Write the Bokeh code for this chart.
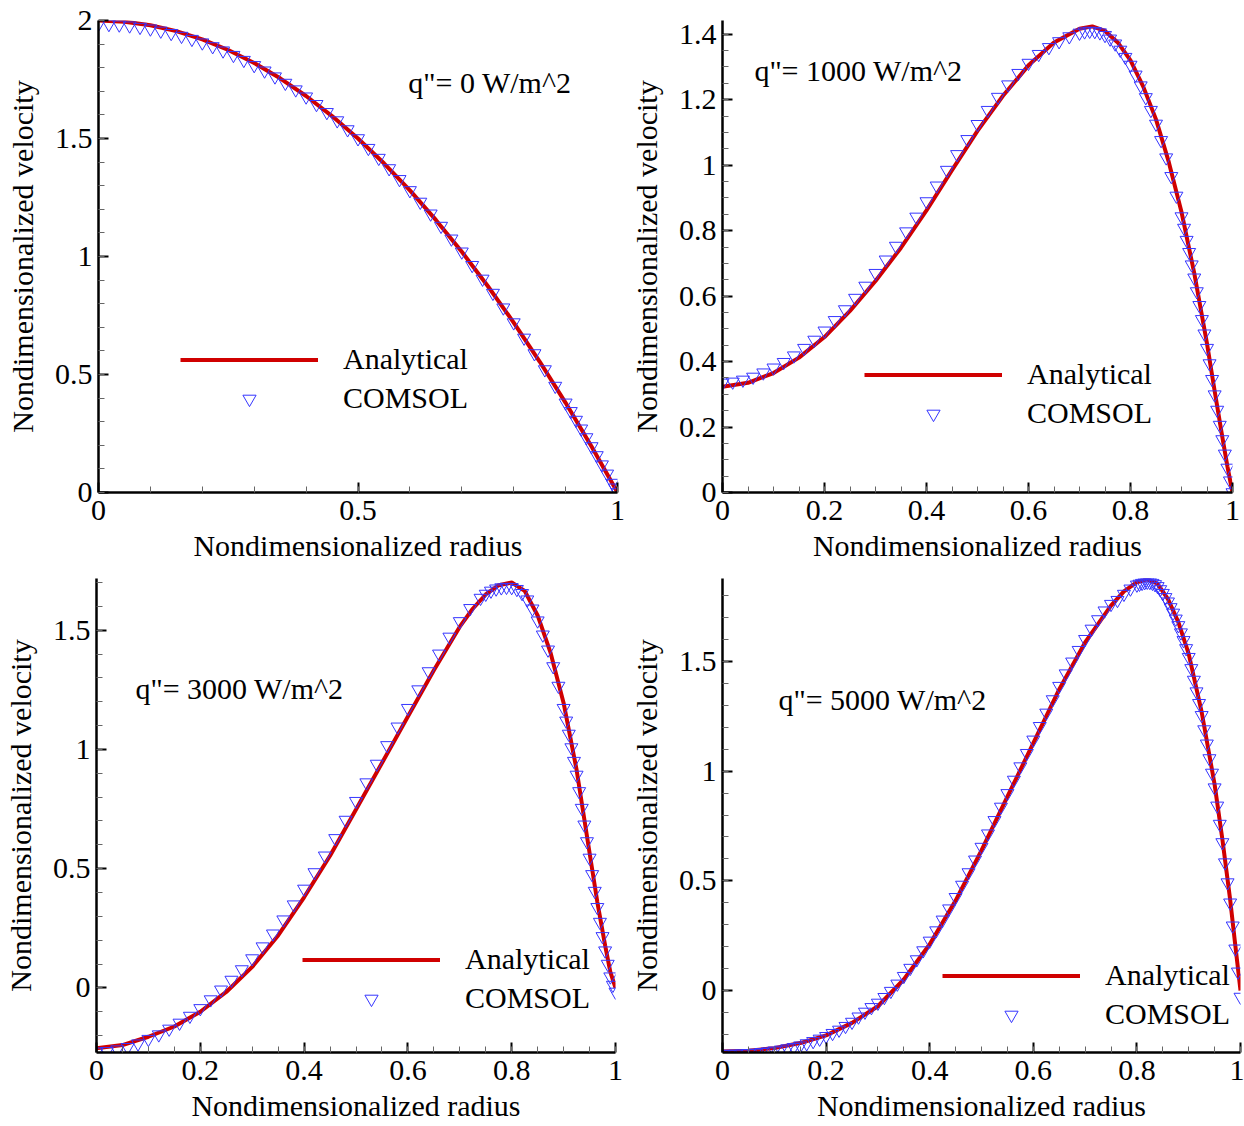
from bokeh.plotting import figure
from bokeh.layouts import column, row
from bokeh.models import (Range1d, SingleIntervalTicker, CustomJSTickFormatter,
                          Label, Legend, LegendItem)
from bokeh.embed import file_html
from bokeh.resources import INLINE

# ---------------- data ----------------
# Panel 1: q" = 0 W/m^2
R1_A = [0.0, 0.05, 0.1, 0.15, 0.2, 0.25, 0.3, 0.35, 0.4, 0.45, 0.5, 0.55, 0.6, 0.65,
        0.7, 0.75, 0.8, 0.85, 0.9, 0.95, 1.0]
V1_A = [2.0, 1.995, 1.98, 1.955, 1.92, 1.875, 1.82, 1.755, 1.68, 1.595, 1.5, 1.395,
        1.28, 1.155, 1.02, 0.875, 0.72, 0.555, 0.38, 0.195, 0.0]
R1_C = [0.00, 0.02, 0.04, 0.06, 0.08, 0.10, 0.12, 0.14, 0.16, 0.18, 0.20, 0.22, 0.24,
        0.26, 0.28, 0.30, 0.32, 0.34, 0.36, 0.38, 0.40, 0.42, 0.44, 0.46, 0.48, 0.50,
        0.52, 0.54, 0.56, 0.58, 0.60, 0.62, 0.64, 0.66, 0.68, 0.70, 0.72, 0.74, 0.76,
        0.78, 0.80, 0.82, 0.84, 0.86, 0.88, 0.90, 0.91, 0.92, 0.93, 0.94, 0.95, 0.96,
        0.97, 0.98, 0.99, 0.995, 1.0]
V1_C = [1.985, 1.984, 1.982, 1.978, 1.972, 1.965, 1.956, 1.946, 1.934, 1.921, 1.906,
        1.890, 1.872, 1.853, 1.832, 1.810, 1.787, 1.762, 1.735, 1.707, 1.677, 1.645,
        1.611, 1.576, 1.538, 1.500, 1.459, 1.417, 1.373, 1.327, 1.280, 1.231, 1.181,
        1.129, 1.075, 1.020, 0.963, 0.905, 0.845, 0.783, 0.720, 0.655, 0.589, 0.521,
        0.451, 0.380, 0.344, 0.307, 0.270, 0.233, 0.195, 0.157, 0.118, 0.079, 0.040,
        0.020, 0.000]

# Panel 2: q" = 1000 W/m^2
R2_A = [0.0, 0.05, 0.1, 0.15, 0.2, 0.25, 0.3, 0.35, 0.4, 0.45, 0.5, 0.55, 0.6, 0.65,
        0.7, 0.725, 0.75, 0.775, 0.8, 0.825, 0.85, 0.875, 0.9, 0.925, 0.95, 0.965,
        0.98, 0.99, 1.0]
V2_A = [0.323, 0.335, 0.365, 0.412, 0.475, 0.555, 0.646, 0.748, 0.862, 0.985, 1.105,
        1.212, 1.305, 1.375, 1.417, 1.424, 1.410, 1.375, 1.320, 1.240, 1.140, 1.010,
        0.857, 0.670, 0.455, 0.310, 0.170, 0.080, 0.0]
R2_C = [0.00, 0.02, 0.04, 0.06, 0.08, 0.10, 0.12, 0.14, 0.16, 0.18, 0.20, 0.22, 0.24,
        0.26, 0.28, 0.30, 0.32, 0.34, 0.36, 0.38, 0.40, 0.42, 0.44, 0.46, 0.48, 0.50,
        0.52, 0.54, 0.56, 0.58, 0.60, 0.62, 0.64, 0.66, 0.68, 0.70,
        0.71, 0.72, 0.73, 0.74, 0.75, 0.76, 0.77, 0.78, 0.79, 0.80, 0.81, 0.82, 0.83,
        0.84, 0.85, 0.86, 0.87, 0.88, 0.89, 0.90,
        0.905, 0.91, 0.915, 0.92, 0.925, 0.93, 0.935, 0.94, 0.945, 0.95, 0.955, 0.96,
        0.965, 0.97, 0.975, 0.98, 0.985, 0.99, 0.995, 1.0]
V2_C = [0.335, 0.338, 0.344, 0.353, 0.366, 0.381, 0.398, 0.418, 0.441, 0.466, 0.494,
        0.526, 0.559, 0.594, 0.631, 0.670, 0.711, 0.753, 0.797, 0.842, 0.889, 0.937,
        0.985, 1.033, 1.079, 1.125, 1.168, 1.208, 1.246, 1.281, 1.312, 1.339, 1.360,
        1.378, 1.393, 1.404,
        1.408, 1.410, 1.409, 1.405, 1.397, 1.386, 1.371, 1.352, 1.330, 1.306, 1.276,
        1.243, 1.207, 1.168, 1.126, 1.076, 1.023, 0.966, 0.906, 0.843,
        0.808, 0.771, 0.734, 0.696, 0.656, 0.614, 0.572, 0.529, 0.485, 0.441, 0.394,
        0.346, 0.299, 0.252, 0.206, 0.162, 0.118, 0.075, 0.036, 0.0]

# Panel 3: q" = 3000 W/m^2
R3_A = [0.0, 0.05, 0.1, 0.15, 0.2, 0.25, 0.3, 0.35, 0.4, 0.45, 0.5, 0.55, 0.6, 0.65,
        0.7, 0.725, 0.75, 0.775, 0.8, 0.825, 0.85, 0.875, 0.9, 0.925, 0.95, 0.965,
        0.98, 0.99, 1.0]
V3_A = [-0.253, -0.240, -0.205, -0.162, -0.100, -0.017, 0.088, 0.220, 0.380, 0.554,
        0.748, 0.943, 1.138, 1.332, 1.515, 1.590, 1.650, 1.689, 1.700, 1.665, 1.562,
        1.405, 1.195, 0.915, 0.567, 0.360, 0.178, 0.067, 0.0]
R3_C = [0.00, 0.02, 0.04, 0.06, 0.08, 0.10, 0.12, 0.14, 0.16, 0.18, 0.20, 0.22, 0.24,
        0.26, 0.28, 0.30, 0.32, 0.34, 0.36, 0.38, 0.40, 0.42, 0.44, 0.46, 0.48, 0.50,
        0.52, 0.54, 0.56, 0.58, 0.60, 0.62, 0.64, 0.66, 0.68, 0.70, 0.72, 0.74,
        0.75, 0.76, 0.77, 0.78, 0.79, 0.80, 0.81, 0.82, 0.83, 0.84, 0.85, 0.86, 0.87,
        0.88, 0.89, 0.90,
        0.905, 0.91, 0.915, 0.92, 0.925, 0.93, 0.935, 0.94, 0.945, 0.95, 0.955, 0.96,
        0.965, 0.97, 0.975, 0.98, 0.985, 0.99, 0.995, 1.0]
V3_C = [-0.268, -0.266, -0.259, -0.249, -0.234, -0.215, -0.196, -0.172, -0.147, -0.118,
        -0.086, -0.049, -0.008, 0.033, 0.077, 0.123, 0.173, 0.227, 0.286, 0.349, 0.415,
        0.484, 0.554, 0.627, 0.704, 0.783, 0.861, 0.939, 1.017, 1.095, 1.173, 1.251,
        1.327, 1.401, 1.472, 1.537, 1.592, 1.635,
        1.652, 1.665, 1.674, 1.679, 1.681, 1.680, 1.672, 1.655, 1.628, 1.590, 1.540,
        1.481, 1.418, 1.348, 1.266, 1.173,
        1.120, 1.065, 1.008, 0.951, 0.893, 0.824, 0.754, 0.684, 0.614, 0.545, 0.476,
        0.406, 0.338, 0.276, 0.216, 0.156, 0.100, 0.047, 0.012, -0.017]

# Panel 4: q" = 5000 W/m^2
R4_A = [0.0, 0.05, 0.1, 0.15, 0.2, 0.25, 0.3, 0.35, 0.4, 0.45, 0.5, 0.55, 0.6, 0.65,
        0.7, 0.75, 0.775, 0.8, 0.82, 0.84, 0.86, 0.88, 0.9, 0.925, 0.95, 0.965, 0.98,
        0.99, 1.0]
V4_A = [-0.278, -0.275, -0.263, -0.240, -0.205, -0.148, -0.072, 0.050, 0.211, 0.410,
        0.639, 0.884, 1.128, 1.373, 1.587, 1.755, 1.820, 1.862, 1.875, 1.855, 1.785,
        1.680, 1.535, 1.270, 0.940, 0.690, 0.415, 0.205, 0.0]
R4_C = [0.0, 0.0125, 0.025, 0.0375, 0.05, 0.0625, 0.075, 0.0875, 0.1, 0.1125, 0.125,
        0.1375, 0.15, 0.1625, 0.175, 0.1875, 0.2, 0.2125, 0.225, 0.2375, 0.25, 0.2625,
        0.275, 0.2875, 0.3, 0.3125, 0.325, 0.3375, 0.35, 0.3625, 0.375, 0.3875, 0.4,
        0.4125, 0.425, 0.4375, 0.45, 0.4625, 0.475, 0.4875, 0.5, 0.5125, 0.525, 0.5375,
        0.55, 0.5625, 0.575, 0.5875, 0.6, 0.6125, 0.625, 0.6375, 0.65, 0.6625, 0.675,
        0.6875, 0.7, 0.7125, 0.725, 0.7375, 0.75, 0.7625, 0.775, 0.7875, 0.8,
        0.805, 0.81, 0.815, 0.82, 0.825, 0.83, 0.835, 0.84, 0.845, 0.85,
        0.855, 0.86, 0.865, 0.87, 0.875, 0.88, 0.885, 0.89, 0.895, 0.9,
        0.905, 0.91, 0.915, 0.92, 0.925, 0.93, 0.935, 0.94, 0.945, 0.95,
        0.955, 0.96, 0.965, 0.97, 0.975, 0.98, 0.985, 0.99, 0.995, 1.0]
V4_C = [-0.290, -0.290, -0.289, -0.288, -0.287, -0.285, -0.282, -0.279, -0.275, -0.271,
        -0.265, -0.259, -0.252, -0.242, -0.232, -0.221, -0.209, -0.195, -0.180, -0.163,
        -0.144, -0.120, -0.098, -0.077, -0.057, -0.031, -0.003, 0.030, 0.065, 0.102,
        0.141, 0.182, 0.226, 0.273, 0.322, 0.373, 0.425, 0.481, 0.538, 0.596,
        0.654, 0.715, 0.776, 0.837, 0.899, 0.960, 1.021, 1.082, 1.143, 1.205,
        1.266, 1.327, 1.388, 1.445, 1.499, 1.552, 1.602, 1.649, 1.692, 1.732,
        1.762, 1.780, 1.808, 1.832, 1.850,
        1.854, 1.858, 1.861, 1.863, 1.862, 1.858, 1.852, 1.843, 1.829, 1.812,
        1.793, 1.773, 1.747, 1.722, 1.695, 1.665, 1.632, 1.597, 1.560, 1.520,
        1.469, 1.416, 1.363, 1.310, 1.255, 1.190, 1.125, 1.058, 0.992, 0.925,
        0.842, 0.759, 0.675, 0.583, 0.492, 0.400, 0.295, 0.190, 0.085, -0.030]

Q_LABELS = ['q"= 0 W/m^2', 'q"= 1000 W/m^2', 'q"= 3000 W/m^2', 'q"= 5000 W/m^2']
SERIES_NAMES = ["Analytical", "COMSOL"]
X_TITLE = "Nondimensionalized radius"
Y_TITLE = "Nondimensionalized velocity"

# ---------------- styling ----------------
FONT = "Liberation Serif"
FS = "30px"
RED = "#d00000"
BLUE = "#3535ff"


def make_panel(ra, va, rc, vc, ylo, yhi, xint, yint, yminor, qtext, qpos,
               legpos, width, height, borders):
    left, right, top, bottom = borders
    p = figure(width=width, height=height, output_backend="svg", toolbar_location=None,
               x_range=Range1d(0, 1), y_range=Range1d(ylo, yhi),
               min_border_left=left, min_border_right=right,
               min_border_top=top, min_border_bottom=bottom)
    p.outline_line_color = None
    p.grid.visible = False
    p.background_fill_color = "white"
    p.border_fill_color = "white"

    p.xaxis.ticker = SingleIntervalTicker(interval=xint, num_minor_ticks=5 if xint == 0.5 else 4)
    p.yaxis.ticker = SingleIntervalTicker(interval=yint, num_minor_ticks=yminor)
    fmt = CustomJSTickFormatter(code="return String(Math.round(tick*100)/100);")
    for ax in (p.xaxis[0], p.yaxis[0]):
        ax.formatter = fmt
        ax.axis_line_color = "black"
        ax.axis_line_width = 2.5
        ax.major_tick_in = 10
        ax.major_tick_out = 0
        ax.minor_tick_in = 6
        ax.minor_tick_out = 0
        ax.major_tick_line_color = "black"
        ax.major_tick_line_width = 2
        ax.minor_tick_line_color = "#666666"
        ax.minor_tick_line_width = 1
        ax.major_label_text_font = FONT
        ax.major_label_text_font_size = FS
        ax.major_label_text_color = "black"
        ax.axis_label_text_font = FONT
        ax.axis_label_text_font_size = FS
        ax.axis_label_text_font_style = "normal"
        ax.axis_label_text_color = "black"
    p.xaxis.major_label_standoff = 8
    p.xaxis.axis_label = X_TITLE
    p.xaxis.axis_label_standoff = 6
    p.yaxis.major_label_standoff = 6
    p.yaxis.axis_label = Y_TITLE
    p.yaxis.axis_label_standoff = 13

    ln = p.line(ra, va, line_color=RED, line_width=4)
    sc = p.scatter(rc, vc, marker="inverted_triangle", size=13, fill_color=None,
                   line_color=BLUE, line_width=1)

    p.add_layout(Label(x=qpos[0], y=qpos[1], text=qtext, text_font=FONT,
                       text_font_size=FS, text_color="black", text_baseline="middle"))

    leg = Legend(items=[LegendItem(label=SERIES_NAMES[0], renderers=[ln]),
                        LegendItem(label=SERIES_NAMES[1], renderers=[sc])],
                 location=legpos, orientation="vertical",
                 glyph_width=138, glyph_height=33, label_height=33, spacing=5,
                 label_standoff=25, padding=0, margin=0,
                 border_line_alpha=0, background_fill_alpha=0,
                 label_text_font=FONT, label_text_font_size=FS,
                 label_text_color="black")
    p.add_layout(leg, "center")
    return p


p1 = make_panel(R1_A, V1_A, R1_C, V1_C, 0, 2.0, 0.5, 0.5, 5, Q_LABELS[0], (0.597, 1.737),
                (82, 77), 626, 569, (98, 9, 20, 77))
p2 = make_panel(R2_A, V2_A, R2_C, V2_C, 0, 1.442, 0.2, 0.2, 4, Q_LABELS[1], (0.0625, 1.29),
                (142, 62), 618, 569, (94, 12, 17, 74))
p3 = make_panel(R3_A, V3_A, R3_C, V3_C, -0.271, 1.717, 0.2, 0.5, 5, Q_LABELS[2], (0.075, 1.254),
                (206, 37), 626, 557, (96, 11, 6, 74))
p4 = make_panel(R4_A, V4_A, R4_C, V4_C, -0.283, 1.879, 0.2, 0.5, 5, Q_LABELS[3], (0.108, 1.327),
                (220, 21), 618, 557, (94, 4, 9, 74))

layout = column(row(p1, p2, spacing=0), row(p3, p4, spacing=0), spacing=0)
open("out.html", "w").write(file_html(layout, INLINE))
